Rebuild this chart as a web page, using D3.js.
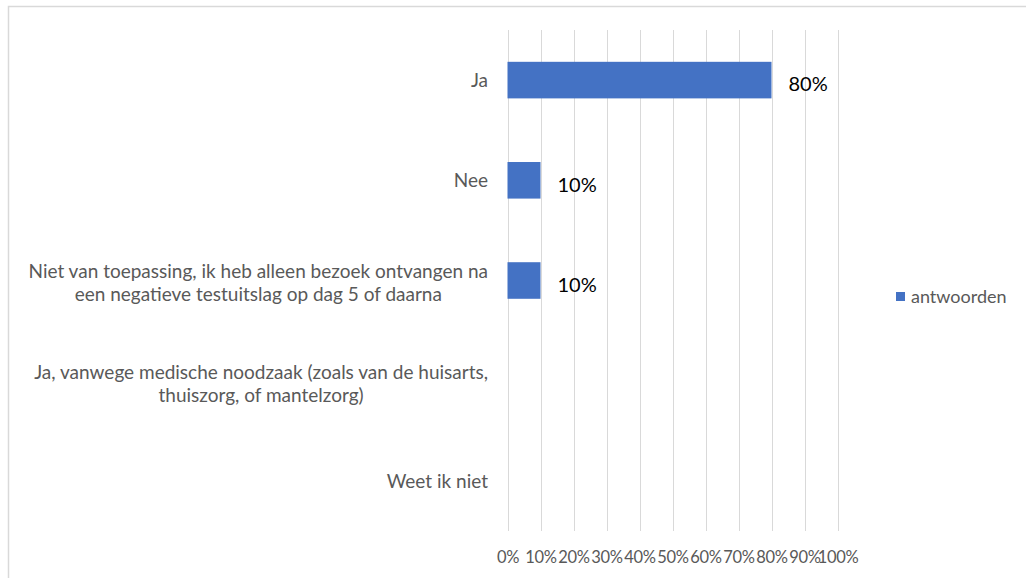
<!DOCTYPE html>
<html>
<head>
<meta charset="utf-8">
<script src="https://cdn.jsdelivr.net/npm/d3@7"></script>
<style>
  html, body { margin: 0; padding: 0; background: #fff; }
  svg { display: block; }
  text { font-family: Lato, "Open Sans", sans-serif; }
</style>
</head>
<body>
<svg id="chart" width="1026" height="578"></svg>
<script>
const categories = [
  "Ja",
  "Nee",
  "Niet van toepassing, ik heb alleen bezoek ontvangen na een negatieve testuitslag op dag 5 of daarna",
  "Ja, vanwege medische noodzaak (zoals van de huisarts, thuiszorg, of mantelzorg)",
  "Weet ik niet"
];
const values = [0.80, 0.10, 0.10, null, null];
const tickValues = [0, 0.1, 0.2, 0.3, 0.4, 0.5, 0.6, 0.7, 0.8, 0.9, 1.0];
const seriesName = "antwoorden";

const svg = d3.select("#chart");
const W = 1026, H = 578;
const barColor = "#4472C4";

// outer frame (extends past right/bottom edge)
svg.append("rect")
  .attr("x", 8.5).attr("y", 6.5)
  .attr("width", W + 10).attr("height", H + 10)
  .attr("fill", "none").attr("stroke", "#d9d9d9").attr("stroke-width", 1.5);

const x = d3.scaleLinear().domain([0, 1]).range([507.5, 837.5]);
const y = d3.scaleBand().domain(categories).range([30, 531])
  .paddingInner(0.635).paddingOuter(0.3175);

// gridlines
svg.append("g").selectAll("line").data(tickValues).join("line")
  .attr("x1", d => Math.round(x(d)) + 0.5).attr("x2", d => Math.round(x(d)) + 0.5)
  .attr("y1", 30).attr("y2", 531)
  .attr("stroke", "#d9d9d9").attr("stroke-width", 1);

// x axis tick labels
const xAxis = d3.axisBottom(x).tickValues(tickValues).tickSize(0)
  .tickFormat(d => Math.round(d * 100) + "%");
const gx = svg.append("g").attr("transform", "translate(0,548)").call(xAxis);
gx.select(".domain").remove();
gx.selectAll("text").attr("fill", "#595959").style("font-size", "16.5px")
  .style("font-family", "Lato, sans-serif").style("letter-spacing", "-0.3px")
  .attr("dy", "0.71em");

// bars
const data = categories.map((c, i) => ({ c, v: values[i] }));
svg.append("g").selectAll("rect").data(data.filter(d => d.v != null)).join("rect")
  .attr("x", x(0)).attr("y", d => y(d.c))
  .attr("width", d => x(d.v) - x(0)).attr("height", y.bandwidth())
  .attr("fill", barColor);

// value labels
svg.append("g").selectAll("text").data(data.filter(d => d.v != null)).join("text")
  .attr("x", d => x(d.v) + 17)
  .attr("y", d => y(d.c) + y.bandwidth() / 2 + 4)
  .attr("dy", "0.36em")
  .attr("fill", "#000")
  .style("font-size", "20px")
  .text(d => Math.round(d.v * 100) + "%");

// category labels with wrapping
const labelRight = 488, labelMaxW = 472, catFont = 19, lineH = 23;
const gy = svg.append("g");
const measurer = svg.append("text").style("font-size", catFont + "px");
function textW(s) { measurer.text(s); return measurer.node().getComputedTextLength(); }
function wrap(str) {
  const words = str.split(" ");
  const lines = [];
  let cur = "";
  words.forEach(w => {
    const test = cur ? cur + " " + w : w;
    if (textW(test) > labelMaxW && cur) { lines.push(cur); cur = w; }
    else cur = test;
  });
  if (cur) lines.push(cur);
  return lines;
}
categories.forEach(c => {
  const lines = wrap(c);
  const widths = lines.map(textW);
  const blockW = d3.max(widths);
  const cy = y(c) + y.bandwidth() / 2 + (lines.length > 1 ? 2.5 : 0);
  const cx = labelRight - blockW / 2;
  lines.forEach((ln, i) => {
    gy.append("text")
      .attr("x", cx).attr("text-anchor", "middle")
      .attr("y", cy + (i - (lines.length - 1) / 2) * lineH)
      .attr("dy", "0.36em")
      .attr("fill", "#595959")
      .style("font-size", catFont + "px")
      .text(ln);
  });
});
measurer.remove();

// legend
const lg = svg.append("g");
lg.append("rect").attr("x", 896).attr("y", 292).attr("width", 9).attr("height", 9).attr("fill", barColor);
lg.append("text").attr("x", 911).attr("y", 297).attr("dy", "0.36em")
  .attr("fill", "#595959").style("font-size", "18px").text(seriesName);
</script>
</body>
</html>
